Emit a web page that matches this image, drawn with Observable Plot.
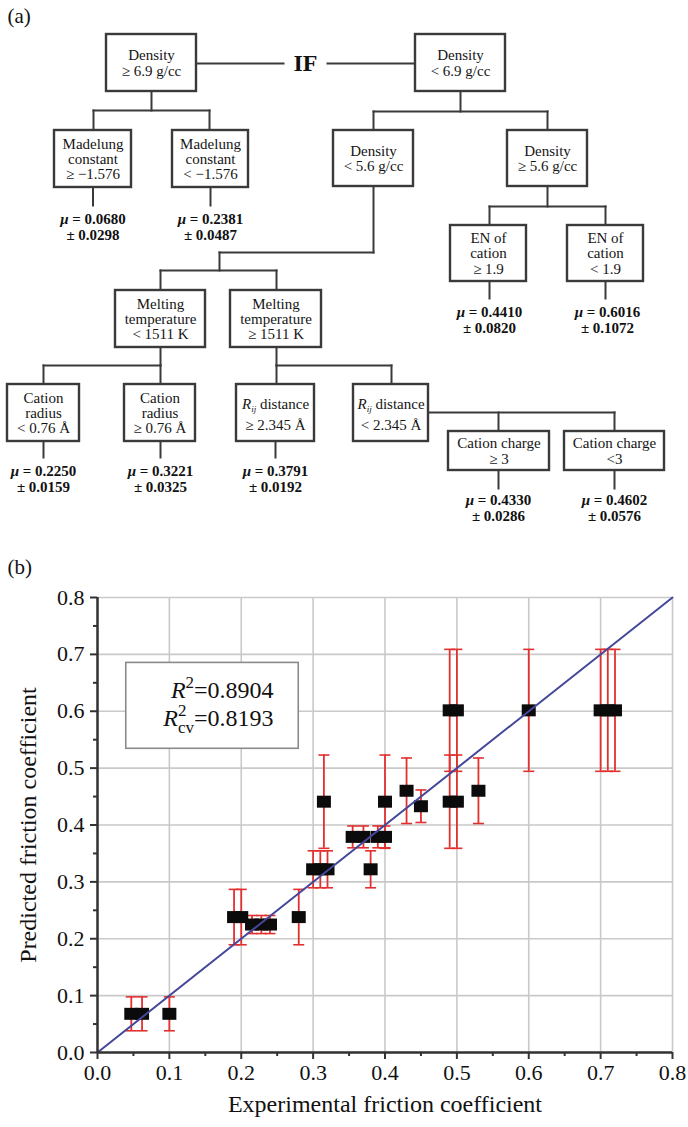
<!DOCTYPE html>
<html><head><meta charset="utf-8">
<script src="https://cdn.jsdelivr.net/npm/d3@7"></script>
<script src="https://cdn.jsdelivr.net/npm/@observablehq/plot@0.6"></script>
<style>
html,body{margin:0;padding:0;background:#fff;}
#chart svg{display:block;}
</style></head>
<body><div id="chart"></div>
<script>
// ================= DATA =================
// (a) decision tree: node conditions and leaf results
const nodeLabels = [
  "Density\n≥ 6.9 g/cc",
  "Density\n< 6.9 g/cc",
  "Madelung\nconstant\n≥ −1.576",
  "Madelung\nconstant\n< −1.576",
  "Density\n< 5.6 g/cc",
  "Density\n≥ 5.6 g/cc",
  "EN of\ncation\n≥ 1.9",
  "EN of\ncation\n< 1.9",
  "Melting\ntemperature\n< 1511 K",
  "Melting\ntemperature\n≥ 1511 K",
  "Cation\nradius\n< 0.76 Å",
  "Cation\nradius\n≥ 0.76 Å",
  "Rij distance\n≥ 2.345 Å",
  "Rij distance\n< 2.345 Å",
  "Cation charge\n≥ 3",
  "Cation charge\n<3"
];
const leafMeans = ["0.0680", "0.2381", "0.4410", "0.6016", "0.2250", "0.3221", "0.3791", "0.4330", "0.4602"];
const leafSDs   = ["0.0298", "0.0487", "0.0820", "0.1072", "0.0159", "0.0325", "0.0192", "0.0286", "0.0576"];
const rootLabel = "IF";

// (b) scatter: experimental vs predicted friction coefficient
const experimental = [0.047, 0.062, 0.100, 0.190, 0.200, 0.280, 0.215, 0.228, 0.240,
                      0.300, 0.310, 0.320, 0.380, 0.355, 0.370, 0.390, 0.400,
                      0.315, 0.400, 0.490, 0.500, 0.450, 0.430, 0.530,
                      0.490, 0.500, 0.600, 0.700, 0.710, 0.720];
const predicted    = [0.0680, 0.0680, 0.0680, 0.2381, 0.2381, 0.2381, 0.2250, 0.2250, 0.2250,
                      0.3221, 0.3221, 0.3221, 0.3221, 0.3791, 0.3791, 0.3791, 0.3791,
                      0.4410, 0.4410, 0.4410, 0.4410, 0.4330, 0.4602, 0.4602,
                      0.6016, 0.6016, 0.6016, 0.6016, 0.6016, 0.6016];
const predictedErr = [0.0298, 0.0298, 0.0298, 0.0487, 0.0487, 0.0487, 0.0159, 0.0159, 0.0159,
                      0.0325, 0.0325, 0.0325, 0.0325, 0.0192, 0.0192, 0.0192, 0.0192,
                      0.0820, 0.0820, 0.0820, 0.0820, 0.0286, 0.0576, 0.0576,
                      0.1072, 0.1072, 0.1072, 0.1072, 0.1072, 0.1072];
const majorTicks = [0.0, 0.1, 0.2, 0.3, 0.4, 0.5, 0.6, 0.7, 0.8];
const minorTicks = [0.05, 0.15, 0.25, 0.35, 0.45, 0.55, 0.65, 0.75];
const rSquared = "0.8904";
const rSquaredCV = "0.8193";
const xTitle = "Experimental friction coefficient";
const yTitle = "Predicted friction coefficient";

// ================= LAYOUT (diagram geometry, pixels) =================
const W = 688, TH = 530, SH = 597;
const nodeLayout = [ // x1, x2, y1, y2
  [106,196,34,91],[415,505,34,91],
  [54,131,130,187],[172,248,130,187],[333,413,130,186],[507,587,130,186],
  [450,526,225,281],[567,643,225,281],
  [115,205,290,347],[230,321,290,347],
  [7,79,384,441],[124,195,384,441],[236,314,384,441],[353,428,384,441],
  [448,549,431,470],[564,664,431,470]
];
const leafLayout = [[92.5,226],[210,226],[489,319],[607,319],[43,478],[160,478],[275,478],[498,507],[614,507]];
const connectorLayout = [
  [196,63,283,63],[327,63,415,63],
  [151,91,151,110],[93,110,209,110],[93,110,93,130],[209,110,209,130],
  [460,91,460,111],[373,111,547,111],[373,111,373,130],[547,111,547,130],
  [547,186,547,206],[489,206,605,206],[489,206,489,225],[605,206,605,225],
  [373,186,373,252],[219,252,373,252],[219,252,219,270],[160,270,276,270],[160,270,160,290],[276,270,276,290],
  [160,347,160,365],[43,365,160,365],[43,365,43,384],[160,365,160,384],
  [276,347,276,365],[276,365,391,365],[276,365,276,384],[391,365,391,384],
  [428,412,614,412],[498,412,498,431],[614,412,614,431],
  [92.5,187,92.5,205],[210,187,210,205],
  [489,281,489,298],[605,281,605,298],
  [43,441,43,457],[160,441,160,457],[275,441,275,457],
  [498,470,498,488],[614,470,614,488]
];

// ================= BUILD =================
const serif = "'Liberation Serif','Times New Roman',Times,serif";
const ink = "#3a3a3a";
const nodes = nodeLabels.map((label, i) => {
  const [x1, x2, y1, y2] = nodeLayout[i];
  return {label, x1, x2, y1, y2};
});
const isRij = d => d.label.startsWith("Rij");
const leaves = leafMeans.map((m, i) => ({label: `μ = ${m}\n± ${leafSDs[i]}`, x: leafLayout[i][0], y: leafLayout[i][1]}));
const connectors = connectorLayout.map(([x1, y1, x2, y2]) => ({x1, y1, x2, y2}));
const cx = d => (d.x1 + d.x2) / 2, cy = d => (d.y1 + d.y2) / 2;

const tree = Plot.plot({
  width: W, height: TH, margin: 0,
  x: {domain: [0, W], range: [0, W], axis: null},
  y: {domain: [0, TH], range: [0, TH], axis: null},
  style: {fontFamily: serif, background: "white", color: "#111"},
  marks: [
    Plot.link(connectors, {x1: "x1", y1: "y1", x2: "x2", y2: "y2", stroke: ink, strokeWidth: 2, strokeLinecap: "square"}),
    Plot.rect(nodes, {x1: "x1", x2: "x2", y1: "y1", y2: "y2", fill: "white", stroke: ink, strokeWidth: 2.4}),
    Plot.text(nodes.filter(d => !isRij(d)), {x: cx, y: cy, text: "label", fontSize: 15, lineHeight: 1.03, fill: "#151515"}),
    Plot.text(nodes.filter(isRij), {x: cx, y: cy, text: "label", fontSize: 15, lineHeight: 1.4, fill: "#151515"}),
    Plot.text(leaves, {x: "x", y: "y", text: "label", fontSize: 15, fontWeight: "bold", lineHeight: 1.07, fill: "#111"}),
    Plot.text([{t: rootLabel, x: 305, y: 63}], {x: "x", y: "y", text: "t", fontSize: 24, fontWeight: "bold", fill: "#111"}),
    Plot.text([{t: "(a)", x: 7, y: 16}], {x: "x", y: "y", text: "t", fontSize: 21, textAnchor: "start", fill: "#111"})
  ]
});

const rows = experimental.map((x, i) => ({x, y: predicted[i], lo: predicted[i] - predictedErr[i], hi: predicted[i] + predictedErr[i]}));
const red = "#e2302f";
const squareSym = {draw(ctx) { ctx.rect(-7, -6, 14, 12); }};
const capSym = {draw(ctx) { ctx.moveTo(-5.5, 0); ctx.lineTo(5.5, 0); }};
const diag = [{x: majorTicks[0], y: majorTicks[0]}, {x: majorTicks[8], y: majorTicks[8]}];
const statBox = [{x1: 0.04, x2: 0.28, y1: 0.534, y2: 0.685}];
const statText = [{t: `R2=${rSquared}`, x: 0.245, y: 0.636}, {t: `R2cv=${rSquaredCV}`, x: 0.245, y: 0.587}];

const scatter = Plot.plot({
  width: W, height: SH,
  marginLeft: 97, marginRight: 16, marginTop: 67, marginBottom: 75,
  x: {domain: [0, 0.8], label: null},
  y: {domain: [0, 0.8], label: null},
  style: {fontFamily: serif, background: "white", color: "#111", overflow: "visible"},
  marks: [
    Plot.gridX(majorTicks, {stroke: "#c9c9c9", strokeOpacity: 1, strokeWidth: 1.6}),
    Plot.gridY(majorTicks, {stroke: "#c9c9c9", strokeOpacity: 1, strokeWidth: 1.6}),
    Plot.rect(statBox, {x1: "x1", x2: "x2", y1: "y1", y2: "y2", fill: "white", stroke: "#8a8a8a", strokeWidth: 1.6}),
    Plot.text(statText, {x: "x", y: "y", text: "t", textAnchor: "end", fontSize: 24, fill: "#111"}),
    Plot.ruleX(rows, {x: "x", y1: "lo", y2: "hi", stroke: red, strokeWidth: 1.8}),
    Plot.dot(rows, {x: "x", y: "lo", symbol: capSym, stroke: red, strokeWidth: 1.6, fill: "none"}),
    Plot.dot(rows, {x: "x", y: "hi", symbol: capSym, stroke: red, strokeWidth: 1.6, fill: "none"}),
    Plot.dot(rows, {x: "x", y: "y", symbol: squareSym, fill: "#0b0b0b", stroke: "none"}),
    Plot.line(diag, {x: "x", y: "y", stroke: "#45479a", strokeWidth: 2}),
    Plot.ruleX([0], {stroke: "#333", strokeWidth: 2.5}),
    Plot.ruleY([0], {stroke: "#333", strokeWidth: 2.5}),
    Plot.axisX(majorTicks, {tickFormat: d => d.toFixed(1), tickSize: 7, tickPadding: 5, fontSize: 22, stroke: "#333", strokeWidth: 2, label: null}),
    Plot.axisX(minorTicks, {tickFormat: () => "", tickSize: 4, stroke: "#333", strokeWidth: 2, label: null}),
    Plot.axisY(majorTicks, {tickFormat: d => d.toFixed(1), tickSize: 7, tickPadding: 6, fontSize: 22, stroke: "#333", strokeWidth: 2, label: null}),
    Plot.axisY(minorTicks, {tickFormat: () => "", tickSize: 4, stroke: "#333", strokeWidth: 2, label: null}),
    Plot.text([xTitle], {frameAnchor: "bottom", dy: 52, textAnchor: "middle", lineAnchor: "middle", fontSize: 24, fill: "#111"}),
    Plot.text([yTitle], {frameAnchor: "left", dx: -69, rotate: -90, textAnchor: "middle", lineAnchor: "middle", fontSize: 24, fill: "#111"}),
    Plot.text(["(b)"], {frameAnchor: "top-left", dx: -90, dy: -30, textAnchor: "start", lineAnchor: "middle", fontSize: 21, fill: "#111"})
  ]
});

// ---- rich text (italics, sub/superscripts) ----
const esc = s => s.replace(/&/g, "&amp;").replace(/</g, "&lt;").replace(/>/g, "&gt;");
function richify(svg, test, html) {
  svg.querySelectorAll("text, tspan").forEach(el => {
    if (el.children.length === 0 && test(el.textContent)) el.innerHTML = html(el.textContent);
  });
}
richify(tree, s => s.startsWith("Rij"), s =>
  `<tspan font-style="italic">R</tspan><tspan font-style="italic" font-size="9" dy="3">ij</tspan><tspan dy="-3">${esc(s.slice(3))}</tspan>`);
richify(tree, s => s.startsWith("μ"), s => `<tspan font-style="italic">μ</tspan>${esc(s.slice(1))}`);
richify(scatter, s => s.startsWith("R2cv"), s =>
  `<tspan font-style="italic">R</tspan><tspan font-size="17" dy="-10">2</tspan><tspan font-size="17" dx="-8.5" dy="17">cv</tspan><tspan dy="-7">${esc(s.slice(4))}</tspan>`);
richify(scatter, s => s.startsWith("R2="), s =>
  `<tspan font-style="italic">R</tspan><tspan font-size="17" dy="-10">2</tspan><tspan dy="10">${esc(s.slice(2))}</tspan>`);

const host = document.getElementById("chart");
host.appendChild(tree);
host.appendChild(scatter);
</script>
</body></html>
